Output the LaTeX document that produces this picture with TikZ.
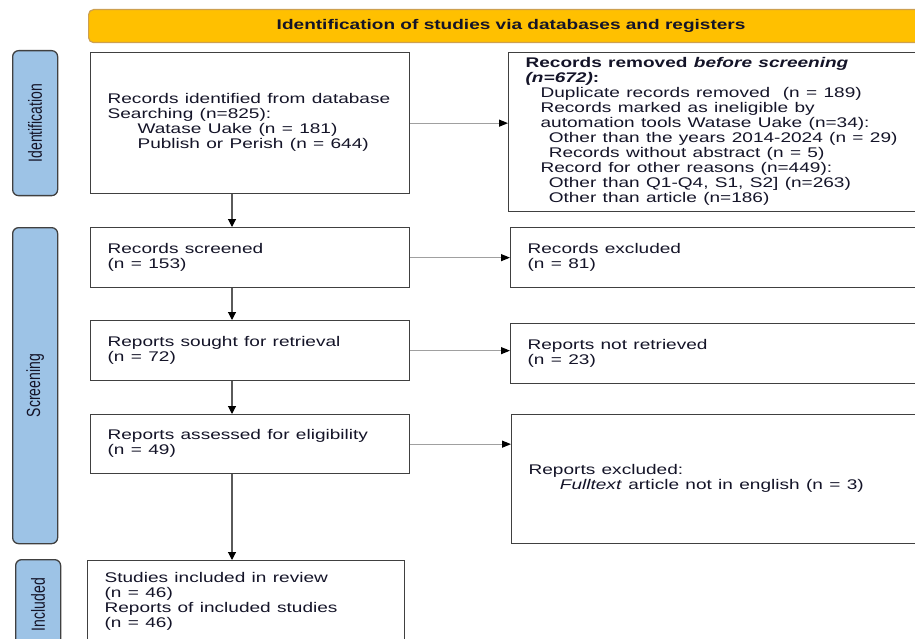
\documentclass[tikz,border=0pt]{standalone}
\usepackage{fontspec}
\setmainfont{Liberation Sans}
\usepackage{graphicx}
\usetikzlibrary{arrows.meta, positioning, calc}
\definecolor{bannergold}{RGB}{255,192,0}
\definecolor{bannerrim}{RGB}{205,160,80}
\definecolor{phaseblue}{RGB}{157,195,230}
\definecolor{rimgray}{RGB}{64,64,64}
\definecolor{downgray}{RGB}{90,90,90}
\definecolor{sidegray}{RGB}{160,160,160}
\definecolor{inkdark}{RGB}{20,20,40}

% the source figure is stretched sideways, so is its text
\newcommand{\wide}[1]{\scalebox{1.36}[1]{#1}}
\newcommand{\lines}[1]{\raisebox{-2pt}{\wide{\begin{tabular}{@{}l@{}}#1\end{tabular}}}}
\newcommand{\phasetext}[1]{\wide{\rotatebox{90}{#1}}}
\newcommand{\ind}[1]{\hspace*{#1pt}}

\tikzset{
  flowbox/.style={draw=rimgray, line width=1.3pt, fill=white, anchor=north west,
    inner xsep=17pt, inner ysep=0pt, align=left, text=inkdark,
    font=\fontsize{14pt}{15pt}\selectfont},
  phase/.style={draw=rimgray, line width=1.3pt, fill=phaseblue, rounded corners=6pt,
    anchor=north west, minimum width=45pt, inner sep=0pt, text=inkdark,
    font=\fontsize{14pt}{15pt}\selectfont},
  banner/.style={draw=bannerrim, line width=1.2pt, fill=bannergold, rounded corners=5pt,
    anchor=north west, minimum width=845pt, minimum height=33pt, inner sep=0pt,
    text=inkdark, font=\fontsize{14pt}{15pt}\selectfont\bfseries},
  down/.style={draw=downgray, line width=1.1pt, -{Triangle[length=8pt, width=8pt, color=black]}},
  side/.style={draw=sidegray, line width=1.1pt, -{Triangle[length=9pt, width=7pt, color=black]}}
}

\begin{document}
\begin{tikzpicture}[x=1pt, y=-1pt]
  \useasboundingbox (0,0) rectangle (915,639);
  \clip (0,0) rectangle (915,639);

  \node[banner] (head) at (88,9) {\wide{Identification of studies via databases and registers}};

  % phases
  \node[phase, minimum height=145pt] (phaseId) at (12,50) {\phasetext{Identification}};
  \node[phase, minimum height=316pt] (phaseScr) at (12,227) {\phasetext{Screening}};
  \node[phase, minimum height=90pt] (phaseInc) at (15,559) {\phasetext{Included}};

  % main column
  \node[flowbox, minimum width=319pt, minimum height=141pt, text width=285pt] (found) at (90,52)
    {\lines{Records identified from database\\ Searching (n=825):\\ \ind{22}Watase Uake (n = 181)\\ \ind{22}Publish or Perish (n = 644)}};
  \node[flowbox, minimum width=319pt, minimum height=60pt, text width=285pt] (screened) at (90,227)
    {\lines{Records screened\\ (n = 153)}};
  \node[flowbox, minimum width=319pt, minimum height=60pt, text width=285pt] (sought) at (90,320)
    {\lines{Reports sought for retrieval\\ (n = 72)}};
  \node[flowbox, minimum width=319pt, minimum height=59pt, text width=285pt] (assessed) at (90,414)
    {\lines{Reports assessed for eligibility\\ (n = 49)}};
  \node[flowbox, minimum width=317pt, minimum height=83pt, text width=283pt] (included) at (87,560)
    {\lines{Studies included in review\\ (n = 46)\\ Reports of included studies\\ (n = 46)}};

  % side column
  \node[flowbox, minimum width=420pt, minimum height=159pt, text width=386pt] (removed) at (508,52)
    {\lines{\textbf{Records removed \textit{before screening}}\\ \textbf{\textit{(n=672)}:}\\
      \ind{11}Duplicate records removed\ \ (n = 189)\\ \ind{11}Records marked as ineligible by\\
      \ind{11}automation tools Watase Uake (n=34):\\ \ind{17}Other than the years 2014-2024 (n = 29)\\
      \ind{17}Records without abstract (n = 5)\\ \ind{11}Record for other reasons (n=449):\\
      \ind{17}Other than Q1-Q4, S1, S2] (n=263)\\ \ind{17}Other than article (n=186)}};
  \node[flowbox, minimum width=420pt, minimum height=60pt, text width=386pt] (excluded) at (510,227)
    {\lines{Records excluded\\ (n = 81)}};
  \node[flowbox, minimum width=420pt, minimum height=60pt, text width=386pt] (notret) at (510,323)
    {\lines{Reports not retrieved\\ (n = 23)}};
  \node[flowbox, minimum width=420pt, minimum height=129pt, text width=386pt] (rejected) at (511,414)
    {\lines{Reports excluded:\\ \ind{23}\textit{Fulltext} article not in english (n = 3)}};

  \coordinate (spine) at (232,0);
  \foreach \a/\b in {found/screened, screened/sought, sought/assessed, assessed/included}
    \draw[down] (\a.south -| spine) -- (\b.north -| spine);
  \foreach \a/\b in {found/removed, screened/excluded, sought/notret, assessed/rejected}
    \draw[side] (\a.east) -- (\a.east -| \b.west);
\end{tikzpicture}
\end{document}
